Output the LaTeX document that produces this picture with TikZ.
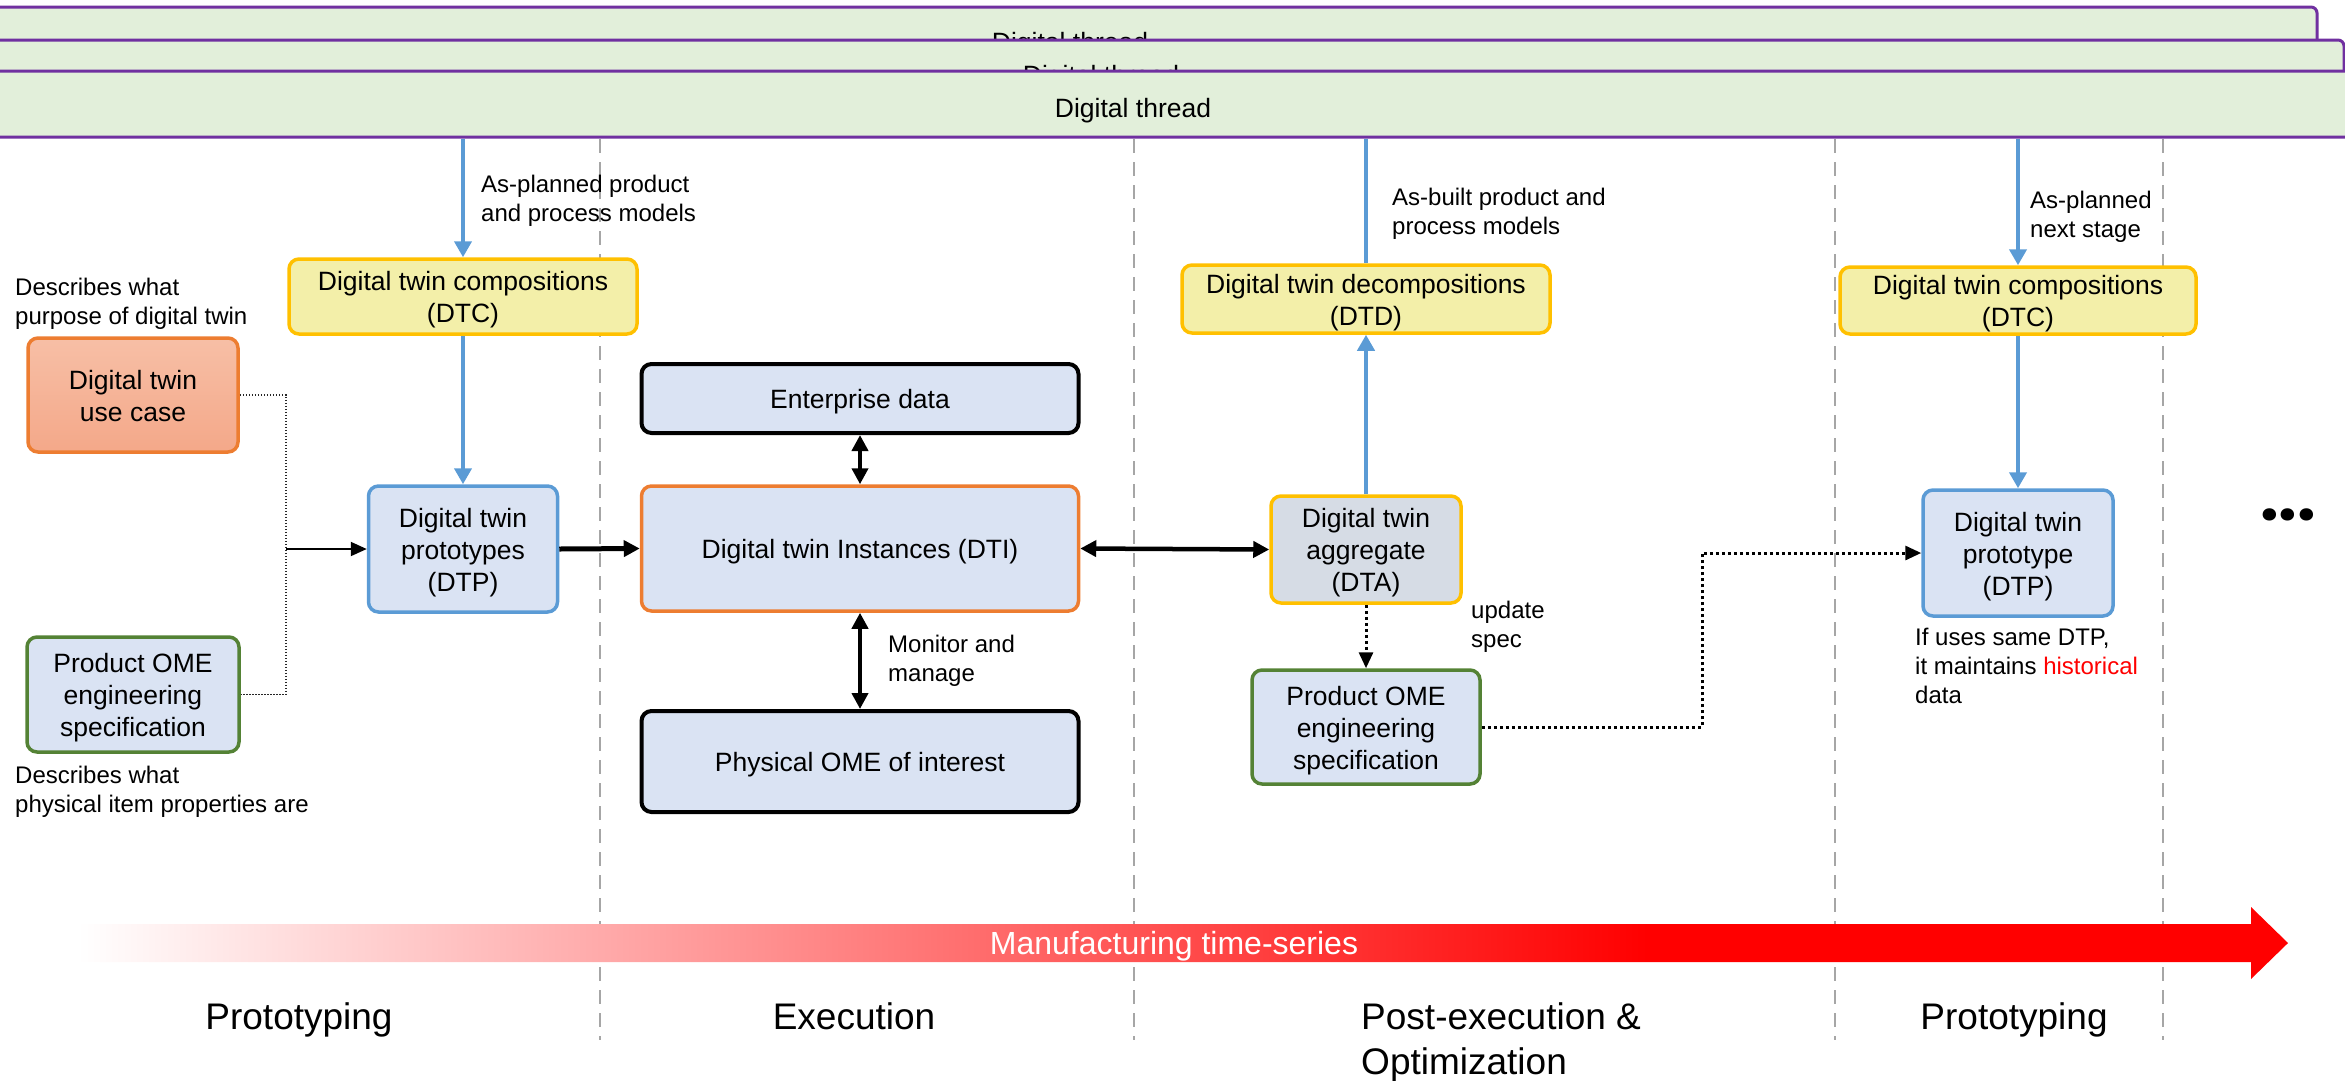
\documentclass[tikz,border=0pt]{standalone}
\usepackage{fontspec}
\setmainfont{Liberation Sans}
\newfontfamily\dotfont{Poppins}
\usetikzlibrary{arrows.meta}
\definecolor{threadfill}{HTML}{E2EFDA}
\definecolor{threadline}{HTML}{7030A0}
\definecolor{yelfill}{HTML}{F3EFA9}
\definecolor{yelline}{HTML}{FFC000}
\definecolor{bluefill}{HTML}{DAE3F3}
\definecolor{blueline}{HTML}{5B9BD5}
\definecolor{orangeline}{HTML}{ED7D31}
\definecolor{greenline}{HTML}{548235}
\definecolor{grayfill}{HTML}{D6DCE5}
\definecolor{salmontop}{HTML}{F7BFA6}
\definecolor{salmonbot}{HTML}{F4A889}
\definecolor{dashgray}{HTML}{A6A6A6}
\definecolor{arrred}{HTML}{FF0000}
\pgfdeclarehorizontalshading{timeshade}{100bp}{color(0bp)=(white); color(25bp)=(white); color(60.5bp)=(arrred); color(100bp)=(arrred)}
\newcommand\fsBox{\fontsize{26.5}{32}\selectfont}
\newcommand\fsNote{\fontsize{24}{29}\selectfont}
\newcommand\fsStage{\fontsize{37}{45}\selectfont}
\newcommand\fsTime{\fontsize{32}{38}\selectfont}
\newcommand\lowered[1]{\raisebox{-4pt}[\height][\depth]{\begin{tabular}{@{}c@{}}#1\end{tabular}}}
\tikzset{
  band/.style={fill=threadfill, draw=threadline, line width=3pt, rounded corners=6pt},
  bandtext/.style={font=\fsBox, anchor=base, inner sep=0pt},
  stagebox/.style={rounded corners=10pt, line width=3.5pt, inner sep=0pt, font=\fsBox},
  yelbox/.style={stagebox, fill=yelfill, draw=yelline},
  bluebox/.style={stagebox, fill=bluefill, draw=blueline},
  blackbox/.style={stagebox, fill=bluefill, draw=black, line width=4pt},
  greenbox/.style={stagebox, fill=bluefill, draw=greenline},
  note/.style={font=\fsNote, align=left, anchor=north west, inner sep=0pt},
  stagelabel/.style={font=\fsStage, anchor=base, inner sep=0pt},
  divider/.style={draw=dashgray, line width=2pt, dash pattern=on 14pt off 9pt},
  bluearr/.style={draw=blueline, line width=4.5pt, -{Triangle[width=17pt,length=16pt]}},
  blueline/.style={draw=blueline, line width=4.5pt},
  blackarr/.style={line width=5pt, -{Triangle[width=16pt,length=16pt]}},
  dblarr/.style={line width=4.5pt, {Triangle[width=16pt,length=16pt]}-{Triangle[width=16pt,length=16pt]}},
  thinarr/.style={line width=2pt, -{Triangle[width=14pt,length=16pt]}},
  dotthin/.style={draw=black!85, line width=1.2pt, dash pattern=on 1.5pt off 1.5pt},
  dotarr/.style={line width=3pt, dash pattern=on 3pt off 3pt, -{Triangle[width=14pt,length=16pt]}}
}
\begin{document}
\begin{tikzpicture}[x=1pt,y=-1pt]
\useasboundingbox (0,0) rectangle (2345,1080);
% digital thread bands
\path[band] (-200,7) rectangle (2317,73);
\node[bandtext] (thread1label) at (1070,51) {Digital thread};
\path[band] (-200,40) rectangle (2344,106);
\node[bandtext] (thread2label) at (1101,84) {Digital thread};
\node[band, minimum width=2400pt, minimum height=66pt, inner sep=0pt] (thread3) at (1180,104) {};
\node[bandtext] (thread3label) at (1133,117) {Digital thread};
% dividers
\foreach \xx/\nm in {600/d1,1134/d2,1835/d3,2163/d4}{
  \coordinate (\nm top) at (\xx,139);
  \coordinate (\nm bot) at (\xx,1040);
  \path[divider] (\nm top) -- (\nm bot);
}
% boxes
\node[stagebox, draw=orangeline, top color=salmontop, bottom color=salmonbot,
      minimum width=210pt, minimum height=114pt] (usecase) at (133,395) {\lowered{Digital twin\\use case}};
\node[greenbox, minimum width=212pt, minimum height=115pt] (prodL) at (133,694.5) {\lowered{Product OME\\engineering\\specification}};
\node[yelbox, minimum width=348pt, minimum height=75pt] (dtcL) at (463,296.5) {\lowered{Digital twin compositions\\(DTC)}};
\node[bluebox, minimum width=189pt, minimum height=126pt] (dtpL) at (463,549) {\lowered{Digital twin\\prototypes\\(DTP)}};
\node[blackbox, minimum width=437pt, minimum height=69pt] (ent) at (860,398.5) {\lowered{Enterprise data}};
\node[stagebox, fill=bluefill, draw=orangeline, minimum width=437pt, minimum height=125pt] (dti) at (860,548.5) {\lowered{Digital twin Instances (DTI)}};
\node[blackbox, minimum width=437pt, minimum height=101pt] (phys) at (860,761.5) {\lowered{Physical OME of interest}};
\node[stagebox, fill=grayfill, draw=yelline, minimum width=190pt, minimum height=107pt] (dta) at (1366,549.5) {\lowered{Digital twin\\aggregate\\(DTA)}};
\node[yelbox, minimum width=368pt, minimum height=68pt] (dtd) at (1366,299) {\lowered{Digital twin decompositions\\(DTD)}};
\node[greenbox, minimum width=228pt, minimum height=114pt] (prodR) at (1366,727) {\lowered{Product OME\\engineering\\specification}};
\node[yelbox, minimum width=356pt, minimum height=67pt] (dtcR) at (2018,300.5) {\lowered{Digital twin compositions\\(DTC)}};
\node[bluebox, minimum width=190pt, minimum height=126pt] (dtpR) at (2018,553) {\lowered{Digital twin\\prototype\\(DTP)}};
% notes
\node[note] (n1) at (481,175) {As-planned product\\and process models};
\node[note] (n2) at (15,278) {Describes what\\purpose of digital twin};
\node[note] (n3) at (15,766) {Describes what\\physical item properties are};
\node[note] (n4) at (888,635) {Monitor and\\manage};
\node[note] (n5) at (1392,188) {As-built product and\\process models};
\node[note] (n6) at (1471,601) {update\\spec};
\node[note] (n7) at (2030,191) {As-planned\\next stage};
\node[note] (n8) at (1915,628) {If uses same DTP,\\it maintains {\color{arrred}historical}\\data};
\node[font=\fontsize{66}{66}\dotfont\bfseries, inner sep=0pt] (dots) at (2288,515) {...};
% connectors
\draw[bluearr] (dtcL.north |- thread3.south) -- (dtcL.north);
\draw[bluearr] (dtcL.south) -- (dtpL.north);
\draw[blueline] (dtd.north |- thread3.south) -- (dtd.north);
\draw[bluearr] (dta.north) -- (dtd.south);
\draw[bluearr] (dtcR.north |- thread3.south) -- (dtcR.north);
\draw[bluearr] (dtcR.south) -- (dtpR.north);
\draw[blackarr] (dtpL.east) -- (dti.west);
\draw[dblarr] (dti.east) -- (dta.west);
\draw[dblarr] (ent.south) -- (dti.north);
\draw[dblarr] (dti.south) -- (phys.north);
\coordinate (jL) at (286,549);
\draw[dotthin] (usecase.east) -| (jL) |- (prodL.east);
\draw[thinarr] (jL) -- (dtpL.west);
\draw[dotarr] (dta.south) -- (prodR.north);
\coordinate (kR) at (1702,640);
\draw[dotarr] (prodR.east) -| (kR) |- (dtpR.west);
% time arrow
\shade[shading=timeshade] (78,924) -- (2251,924) -- (2251,907) -- (2288,943) -- (2251,979) -- (2251,962) -- (78,962) -- cycle;
\node[font=\fsTime, text=white, anchor=base, inner sep=0pt] (timelabel) at (1174,954) {Manufacturing time-series};
% stage labels
\node[stagelabel] (s1) at (299,1029) {Prototyping};
\node[stagelabel] (s2) at (854,1029) {Execution};
\node[font=\fsStage, align=left, anchor=north west, inner sep=0pt] (s3) at (1361,1002) {Post-execution \&\\Optimization};
\node[stagelabel] (s4) at (2014,1029) {Prototyping};
\end{tikzpicture}
\end{document}
